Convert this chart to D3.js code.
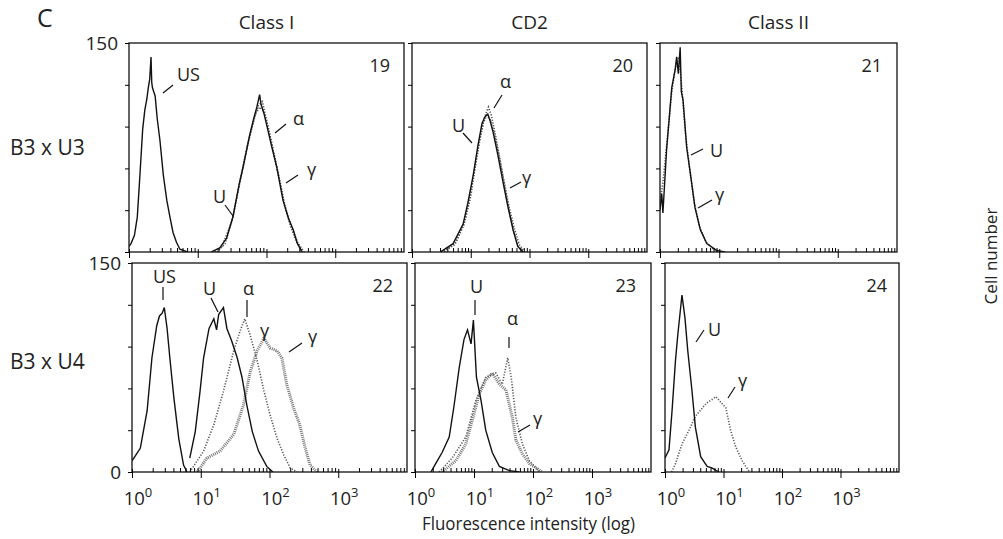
<!DOCTYPE html>
<html>
<head>
<meta charset="utf-8">
<script src="https://d3js.org/d3.v7.min.js"></script>
<style>
  body { margin: 0; background: #fff; }
  text { font-family: 'Open Sans', 'Liberation Sans', sans-serif; fill: #222; }
</style>
</head>
<body>
<div id="chart"></div>
<script>
// ---- data: [fluorescence intensity, cell count] ----
var columns = ["Class I", "CD2", "Class II"];
var rows = ["B3 x U3", "B3 x U4"];
var panelIds = [19, 20, 21, 22, 23, 24];
var yTicks = [0, 30, 60, 90, 120, 150];
var xMajor = [1, 10, 100, 1000];
var xExp = ["0", "1", "2", "3"];

// panel 19 (Class I, B3 x U3)
var p19US = [[1,4],[1.07,6],[1.2,12],[1.32,25],[1.45,57],[1.58,88],[1.7,102],[1.82,110],[1.91,118],[2.0,124],[2.04,131],[2.09,140],[2.14,122],[2.19,118],[2.29,115],[2.4,112],[2.57,96],[2.82,80],[3.16,55],[3.55,37],[3.98,24],[4.37,14],[4.9,7],[5.5,2],[7.08,0]];
var p19U = [[15.8,0],[20.9,3],[26.3,10],[32.4,25],[39.8,48],[45.7,61],[57.5,85],[66.1,97],[72.4,104],[79.4,113],[83.2,106],[91.2,100],[102,90],[120,75],[141,61],[174,37],[209,24],[245,16],[282,6],[331,0]];
var p19A = [[17.8,0],[22.4,4],[31.6,22],[41.7,52],[52.5,76],[66.1,96],[75.9,105],[87.1,108],[100,95],[117,80],[145,58],[178,36],[219,20],[263,9],[331,0]];
var p19G = [[19.1,0],[25.1,6],[33.1,27],[42.7,55],[55,80],[69.2,99],[79.4,104],[91.2,101],[107,88],[126,72],[155,52],[186,33],[229,18],[282,7],[355,0]];

// panel 20 (CD2, B3 x U3)
var p20U = [[3.02,0],[5.01,6],[7.41,20],[8.91,35],[11,55],[13.2,76],[15.5,92],[17.4,97],[19.5,99],[21.4,94],[24,86],[28.8,70],[35.5,50],[42.7,33],[52.5,16],[63.1,4],[77.6,0]];
var p20A = [[3.55,0],[5.62,7],[7.94,22],[10,40],[12,62],[14.5,82],[17,96],[20,104],[22.4,98],[26.3,84],[31.6,66],[38,46],[45.7,28],[55,13],[66,3],[79.4,0]];
var p20G = [[3.16,0],[5.25,5],[7.59,19],[9.33,36],[11.5,58],[13.8,78],[16.2,92],[18.6,98],[21.4,95],[25.1,85],[30.2,69],[37.2,50],[44.7,33],[55,17],[67.6,5],[83.2,0]];

// panel 21 (Class II, B3 x U3)
var p21U = [[1,30],[1.07,42],[1.12,28],[1.29,73],[1.58,118],[1.82,132],[1.91,140],[2.04,128],[2.19,147],[2.29,115],[2.45,109],[2.82,75],[3.24,57],[3.89,32],[4.79,16],[6.17,6],[9.12,1],[12.6,0]];
var p21G = [[1,35],[1.12,50],[1.32,80],[1.58,115],[1.86,135],[2.09,140],[2.34,118],[2.69,85],[3.16,60],[3.8,35],[4.68,18],[6.03,7],[7.94,2],[11.2,0]];

// panel 22 (Class I, B3 x U4)
var p22US = [[1,8],[1.32,17],[1.66,44],[1.95,82],[2.29,105],[2.51,112],[2.75,114],[2.95,118],[3.24,103],[3.55,82],[4.07,53],[4.79,24],[5.62,5],[6.31,0]];
var p22U = [[6.92,10],[8.32,29],[9.77,58],[11,82],[13.2,103],[15.5,110],[17,102],[18.2,113],[21.4,118],[24,103],[28.2,94],[33.9,82],[39.8,68],[46.8,48],[56.2,29],[69.2,15],[91.2,4],[112,0]];
var p22A = [[6.92,0],[11,15],[15.5,34],[21.4,58],[30.2,87],[37.2,101],[43.7,110],[52.5,98],[66.1,80],[83.2,58],[102,41],[129,24],[162,12],[200,3],[251,0]];
var p22G = [[8.91,0],[12.3,10],[19.1,15],[30.2,27],[41.7,48],[52.5,72],[66.1,87],[83.2,96],[102,89],[129,87],[151,82],[178,63],[224,46],[275,34],[331,17],[389,5],[490,0]];

// panel 23 (CD2, B3 x U4)
var p23U = [[1.86,0],[2.24,6],[2.88,14],[3.8,25],[4.57,47],[5.62,75],[6.76,95],[7.76,102],[8.91,92],[9.77,109],[11,68],[13.2,51],[15.8,30],[20.4,14],[26.9,4],[39.8,1],[58.9,0]];
var p23A = [[2.57,0],[4.27,10],[7.24,25],[10.7,51],[15.8,68],[23.4,71],[30.2,63],[37.2,82],[42.7,68],[51.3,39],[66.1,20],[87.1,8],[129,0]];
var p23G = [[2.88,0],[4.9,8],[7.24,20],[9.33,37],[12.3,56],[15.8,66],[20.4,71],[26.9,63],[34.7,59],[44.7,39],[51.3,23],[66.1,13],[87.1,6],[145,0]];

// panel 24 (Class II, B3 x U4)
var p24U = [[1,10],[1.17,16],[1.32,44],[1.51,80],[1.66,99],[1.95,127],[2.19,111],[2.45,87],[2.88,59],[3.31,32],[4.07,11],[5.25,4],[6.31,3],[8.32,0]];
var p24G = [[1.3,0],[1.51,6],[1.95,20],[2.57,30],[3.31,40],[5.01,49],[7.41,54],[11,46],[13.2,30],[16.2,18],[20.9,8],[24,4],[28,0]];

// ---- layout ----
var W = 1003, H = 539;
var boxes = [ // left, top, right, bottom
  [129, 43, 404, 252], [412, 43, 647, 252], [660, 43, 897, 252],
  [132, 263, 407, 472], [415, 263, 651, 472], [665, 263, 899, 472]
];
var curves = [
  [[p19G, "dots"], [p19A, "dots"], [p19US, "solid"], [p19U, "solid"]],
  [[p20G, "dots"], [p20A, "dots"], [p20U, "solid"]],
  [[p21G, "dots"], [p21U, "solid"]],
  [[p22A, "dots"], [p22G, "stipple"], [p22US, "solid"], [p22U, "solid"]],
  [[p23G, "stipple"], [p23A, "dots"], [p23U, "solid"]],
  [[p24G, "dots"], [p24U, "solid"]]
];
// annotation labels: [text, textX, textY, x1, y1, x2, y2] relative to panel corner
var notes = [
  [["US", 48, 38, 34, 50, 44, 42], ["\u03b1", 164, 82, 146, 90, 157, 81], ["\u03b3", 178, 133, 157, 140, 169, 132], ["U", 84, 160, 96, 162, 104, 173]],
  [["\u03b1", 88, 45, 90, 52, 82, 65], ["U", 40, 89, 51, 90, 60, 100], ["\u03b3", 110, 141, 98, 145, 109, 139]],
  [["U", 50, 114, 31, 112, 43, 106], ["\u03b3", 55, 158, 38, 165, 52, 157]],
  [["US", 21, 20, 31, 24, 31, 37], ["U", 71, 32, 79, 35, 86, 49], ["\u03b1", 111, 32, 115, 37, 115, 54], ["\u03b3", 128, 74], ["\u03b3", 176, 80, 157, 89, 170, 80]],
  [["U", 55, 30, 60, 37, 60, 52], ["\u03b1", 92, 62, 94, 74, 94, 85], ["\u03b3", 118, 162, 103, 169, 115, 162]],
  [["U", 43, 73, 31, 79, 39, 67], ["\u03b3", 73, 124, 63, 135, 70, 124]]
];

var svg = d3.select("#chart").append("svg")
  .attr("width", W).attr("height", H)
  .style("background", "#fff");

svg.append("text").attr("x", 37).attr("y", 27).attr("font-size", 25).text("C");

columns.forEach(function (c, i) {
  var b = boxes[i];
  svg.append("text").attr("x", (b[0] + b[2]) / 2).attr("y", 29)
    .attr("text-anchor", "middle").attr("font-size", 19).text(c);
});
svg.append("text").attr("x", 10).attr("y", 155).attr("font-size", 21).text(rows[0]);
svg.append("text").attr("x", 10).attr("y", 369).attr("font-size", 21).text(rows[1]);

panelIds.forEach(function (id, i) {
  var b = boxes[i];
  var row = Math.floor(i / 3), col = i % 3;
  var x = d3.scaleLog().domain([1, 10000]).range([b[0], b[2]]);
  var y = d3.scaleLinear().domain([0, 150]).range([b[3], b[1]]);
  var g = svg.append("g");

  g.append("clipPath").attr("id", "clip" + id)
    .append("rect").attr("x", b[0]).attr("y", b[1] - 2)
    .attr("width", b[2] - b[0]).attr("height", b[3] - b[1] + 2);

  var line = d3.line().x(function (d) { return x(d[0]); }).y(function (d) { return y(d[1]); });

  curves[i].forEach(function (c) {
    var p = g.append("path").datum(c[0]).attr("d", line)
      .attr("fill", "none").attr("clip-path", "url(#clip" + id + ")");
    if (c[1] == "solid") {
      p.attr("stroke", "#111").attr("stroke-width", 1.4);
    } else if (c[1] == "dots") {
      p.attr("stroke", "#555").attr("stroke-width", 1.6).attr("stroke-dasharray", "1.2,1.6");
    } else {
      p.attr("stroke", "#777").attr("stroke-width", 3).attr("stroke-dasharray", "1,1");
    }
  });

  // box
  g.append("rect").attr("x", b[0]).attr("y", b[1])
    .attr("width", b[2] - b[0]).attr("height", b[3] - b[1])
    .attr("fill", "none").attr("stroke", "#111").attr("stroke-width", 1.3);

  // y axis
  var yAxis = d3.axisLeft(y).tickValues(yTicks).tickSize(4).tickPadding(7)
    .tickFormat(function (d) {
      if (col != 0) return "";
      if (d == 150 || (row == 1 && d == 0)) return d;
      return "";
    });
  var ya = g.append("g").attr("transform", "translate(" + b[0] + ",0)").call(yAxis);
  ya.select(".domain").remove();
  ya.selectAll("text").attr("font-size", 19).attr("fill", "#222")
    .style("font-family", "'Open Sans', sans-serif");

  // x axis: minor ticks inside, majors crossing the frame
  var minor = x.ticks().filter(function (v) { return xMajor.indexOf(v) < 0 && v < 10000; });
  var xa1 = g.append("g").attr("transform", "translate(0," + b[3] + ")")
    .call(d3.axisBottom(x).tickValues(minor).tickSize(-4).tickFormat(""));
  xa1.select(".domain").remove();
  var xa2 = g.append("g").attr("transform", "translate(0," + b[3] + ")")
    .call(d3.axisBottom(x).tickValues(xMajor).tickSize(6).tickFormat(""));
  xa2.select(".domain").remove();
  xa2.selectAll("line").attr("transform", "translate(0,-3)").attr("y2", 9);

  if (row == 1) {
    xMajor.forEach(function (v, k) {
      var t = g.append("text").attr("x", x(v) + 6).attr("y", 505)
        .attr("text-anchor", "middle").attr("font-size", 18.5);
      t.append("tspan").text("10");
      t.append("tspan").attr("dy", -8).attr("font-size", 13).text(xExp[k]);
    });
  }

  // panel number
  g.append("text").attr("x", b[0] + (id == 21 || id == 24 ? 222 : 261 - (col ? 40 : 0)))
    .attr("y", b[1] + 29).attr("text-anchor", "end").attr("font-size", 18).text(id);

  notes[i].forEach(function (n) {
    g.append("text").attr("x", b[0] + n[1]).attr("y", b[1] + n[2])
      .attr("font-size", 18).text(n[0]);
    if (n.length > 3) {
      g.append("line").attr("x1", b[0] + n[3]).attr("y1", b[1] + n[4])
        .attr("x2", b[0] + n[5]).attr("y2", b[1] + n[6])
        .attr("stroke", "#111").attr("stroke-width", 1.2);
    }
  });
});

svg.append("text").attr("x", 422).attr("y", 530)
  .attr("font-size", 17.5).attr("textLength", 213).attr("lengthAdjust", "spacingAndGlyphs")
  .text("Fluorescence intensity (log)");
svg.append("text").attr("transform", "translate(997,256) rotate(-90)")
  .attr("text-anchor", "middle").attr("font-size", 17).text("Cell number");
</script>
</body>
</html>
